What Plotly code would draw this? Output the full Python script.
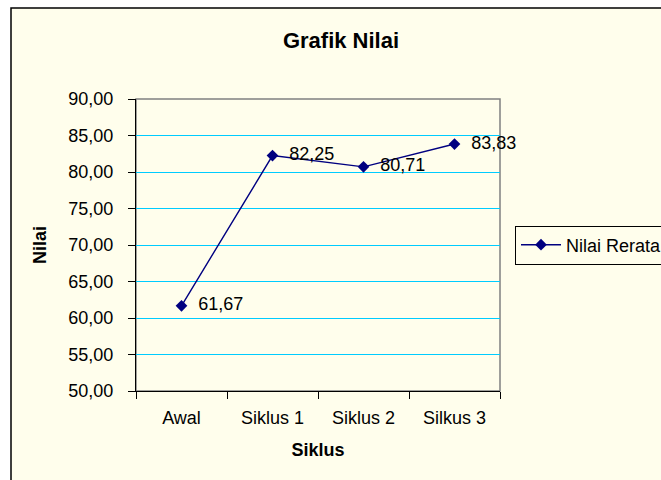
import plotly.graph_objects as go

categories = ["Awal", "Siklus 1", "Siklus 2", "Silkus 3"]
values = [61.67, 82.25, 80.71, 83.83]
labels = ["61,67", "82,25", "80,71", "83,83"]
y_ticks = [50, 55, 60, 65, 70, 75, 80, 85, 90]

BG = "#FFFEEC"
FONT = "Liberation Sans, Arial, sans-serif"
W, H = 740, 480  # wider than the 661px window; the right part is cut off like the reference
L, T = 136, 99
pw, ph = 364, 292
R, B = W - L - pw, H - T - ph

def px(x):
    return (x - L) / pw

def py(y):
    return (T + ph - y) / ph

NB = "\u00a0\u00a0"

fig = go.Figure()
fig.add_trace(go.Scatter(
    x=categories, y=values, mode="lines+markers+text",
    text=[NB + s for s in labels], textposition="middle right",
    textfont=dict(family=FONT, size=18, color="black"),
    line=dict(color="#000080", width=1.4),
    marker=dict(symbol="diamond", size=9, color="#000080"),
    name="Nilai Rerata", cliponaxis=False,
))

fig.update_layout(
    width=W, height=H,
    margin=dict(l=L, r=R, t=T, b=B),
    paper_bgcolor="white",
    plot_bgcolor="rgba(0,0,0,0)",
    separators=",.",
    font=dict(family=FONT, size=18, color="black"),
    title=dict(text="<b>Grafik Nilai</b>", x=341 / W, xanchor="center",
               y=1 - 40 / H, yanchor="middle", font=dict(size=22)),
    showlegend=True,
    legend=dict(x=px(515), xanchor="left", y=0.5, yanchor="middle",
                bordercolor="black", borderwidth=1, bgcolor=BG,
                itemwidth=40, font=dict(size=18)),
    shapes=[
        dict(type="rect", xref="paper", yref="paper", layer="below",
             x0=px(11), x1=px(W + 40), y0=py(540), y1=py(8),
             line=dict(color="black", width=1.5), fillcolor=BG),
        dict(type="rect", xref="paper", yref="paper", layer="below",
             x0=0, x1=1, y0=0, y1=1,
             line=dict(color="#808080", width=1.5)),
    ],
)

fig.update_xaxes(
    type="category", range=[-0.5, 3.5], tickson="boundaries",
    ticks="outside", ticklen=7, tickcolor="black", tickwidth=1,
    showline=True, linecolor="black", linewidth=1.3, showgrid=False,
    tickfont=dict(size=18), ticklabelstandoff=10,
    title=dict(text="<b>Siklus</b>", font=dict(size=18), standoff=16),
)
fig.update_yaxes(
    range=[50, 90], tickvals=y_ticks, tickformat=".2f",
    ticks="outside", ticklen=7, tickcolor="black", tickwidth=1,
    showline=True, linecolor="black", linewidth=1.3,
    showgrid=True, gridcolor="#00CCFF", gridwidth=1.3,
    zeroline=False, tickfont=dict(size=18), ticklabelstandoff=11,
    title=dict(text="<b>Nilai</b>", font=dict(size=18), standoff=16),
)

fig.write_html(
    "out.html",
    config={"displayModeBar": False},
    post_script="document.body.style.margin='0';document.body.style.overflow='hidden';",
)
